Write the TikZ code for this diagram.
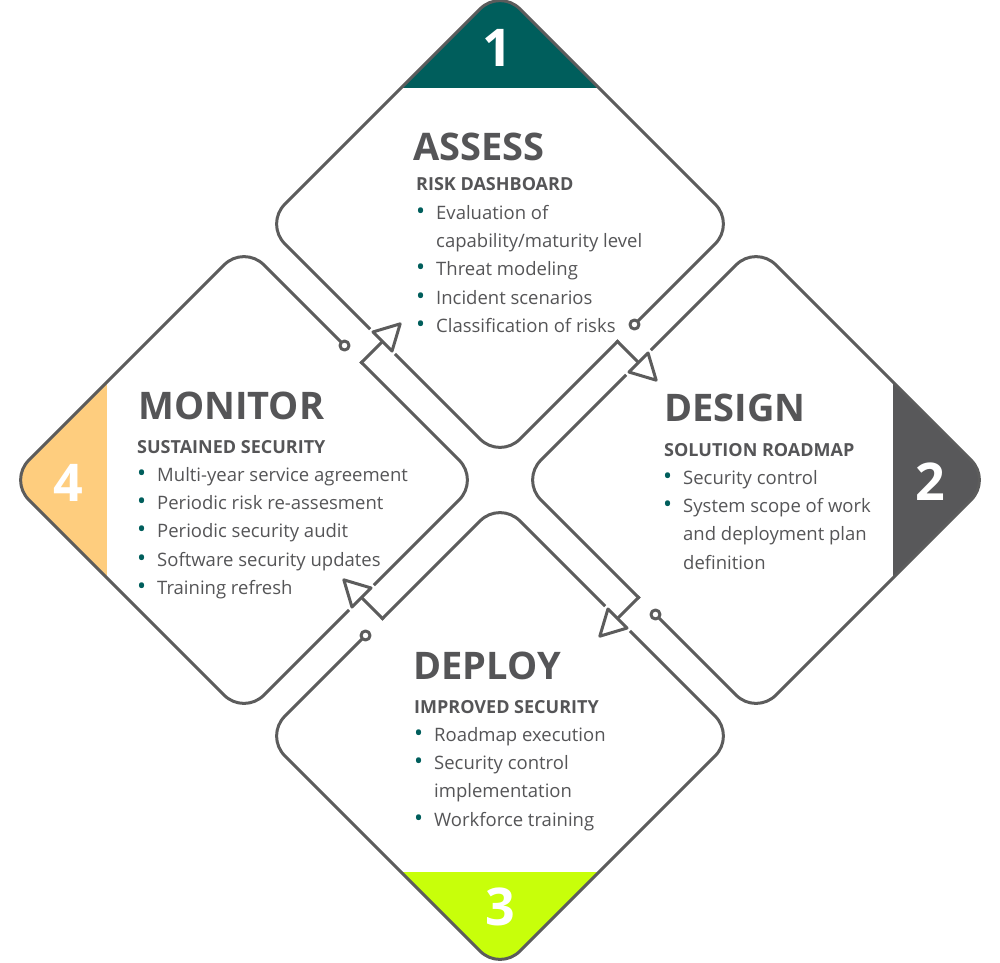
\documentclass[tikz,border=0pt]{standalone}
\usepackage{fontspec}
\setmainfont{Open Sans}
\usetikzlibrary{positioning,calc}
\definecolor{DeepTeal}{RGB}{0,94,92}
\definecolor{SlateGray}{RGB}{88,88,90}
\definecolor{SoftAmber}{RGB}{254,205,126}
\definecolor{LimeGreen}{RGB}{200,255,10}
\definecolor{InkGray}{RGB}{92,92,92}
\definecolor{TextGray}{RGB}{85,85,87}
\newcommand{\bul}{\llap{\textcolor{DeepTeal}{\scalebox{1.3}{\textbullet}}\hspace{11pt}}}
\tikzset{
  outline/.style={draw=InkGray,line width=3pt,line join=round,line cap=rect},
  edge/.style={outline,rounded corners=28pt},
  arrowhead/.style={outline,fill=white},
  enddot/.style={outline,fill=white},
  capfill/.style={rounded corners=28pt},
  title/.style={font=\fontsize{38}{40}\selectfont\bfseries,text=TextGray,
    inner sep=0pt,anchor=base west},
  subtitle/.style={font=\fontsize{18}{20}\selectfont\bfseries,text=TextGray,
    inner sep=0pt,anchor=base west},
  item/.style={font=\fontsize{18.5}{20}\selectfont,text=TextGray,inner sep=0pt,
    text height=14pt,text depth=14pt,anchor=base west},
  number/.style={font=\fontsize{52}{52}\selectfont\bfseries,text=white,inner sep=0pt}
}

\begin{document}
\begin{tikzpicture}[x=1pt,y=1pt]
  \useasboundingbox (-500,-482) rectangle (500,480);
  % corners of the four diamonds
  \coordinate (apex1) at (0,491);
  \coordinate (inwing1) at (-235,256);
  \coordinate (hub1) at (0,21);
  \coordinate (outwing1) at (235,256);
  \coordinate (apex2) at (491,0);
  \coordinate (inwing2) at (256,235);
  \coordinate (hub2) at (21,0);
  \coordinate (outwing2) at (256,-235);
  \coordinate (apex3) at (0,-491);
  \coordinate (inwing3) at (235,-256);
  \coordinate (hub3) at (0,-21);
  \coordinate (outwing3) at (-235,-256);
  \coordinate (apex4) at (-491,0);
  \coordinate (inwing4) at (-256,-235);
  \coordinate (hub4) at (-21,0);
  \coordinate (outwing4) at (-256,235);
  \coordinate (in1) at ($(inwing1)!0.5!(hub1)$);
  \coordinate (out1) at ($(hub1)!0.5!(outwing1)$);
  \coordinate (in2) at ($(inwing2)!0.5!(hub2)$);
  \coordinate (out2) at ($(hub2)!0.5!(outwing2)$);
  \coordinate (in3) at ($(inwing3)!0.5!(hub3)$);
  \coordinate (out3) at ($(hub3)!0.5!(outwing3)$);
  \coordinate (in4) at ($(inwing4)!0.5!(hub4)$);
  \coordinate (out4) at ($(hub4)!0.5!(outwing4)$);

  % coloured caps
  \begin{scope}
    \clip (-300,392) rectangle (300,500);
    \fill[DeepTeal,capfill] ($(apex1)!0.5!(inwing1)$) -- (inwing1) -- (hub1) -- (outwing1) -- (apex1) -- cycle;
  \end{scope}
  \begin{scope}
    \clip (393,-300) rectangle (500,300);
    \fill[SlateGray,capfill] ($(apex2)!0.5!(inwing2)$) -- (inwing2) -- (hub2) -- (outwing2) -- (apex2) -- cycle;
  \end{scope}
  \begin{scope}
    \clip (-300,-392) rectangle (300,-500);
    \fill[LimeGreen,capfill] ($(apex3)!0.5!(inwing3)$) -- (inwing3) -- (hub3) -- (outwing3) -- (apex3) -- cycle;
  \end{scope}
  \begin{scope}
    \clip (-393,-300) rectangle (-500,300);
    \fill[SoftAmber,capfill] ($(apex4)!0.5!(inwing4)$) -- (inwing4) -- (hub4) -- (outwing4) -- (apex4) -- cycle;
  \end{scope}

  % outer runs
  \draw[edge] ($(out1)!24pt!(outwing1)$) -- (outwing1) -- (apex1) -- (inwing1) -- ($(in1)!19pt!(inwing1)$);
  \draw[edge] ($(out2)!24pt!(outwing2)$) -- (outwing2) -- (apex2) -- (inwing2) -- ($(in2)!19pt!(inwing2)$);
  \draw[edge] ($(out3)!24pt!(outwing3)$) -- (outwing3) -- (apex3) -- (inwing3) -- ($(in3)!19pt!(inwing3)$);
  \draw[edge] ($(out4)!24pt!(outwing4)$) -- (outwing4) -- (apex4) -- (inwing4) -- ($(in4)!19pt!(inwing4)$);

  % inner runs and hand-over arrows
  \draw[edge] ($(in1)!19pt!(hub1)$) -- (hub1) -- (out1);
  \draw[edge] ($(in2)!19pt!(hub2)$) -- (hub2) -- (out2);
  \draw[edge] ($(in3)!19pt!(hub3)$) -- (hub3) -- (out3);
  \draw[edge] ($(in4)!19pt!(hub4)$) -- (hub4) -- (out4);
  \draw[outline] (out1) -- (in2);
  \draw[outline] (out2) -- (in3);
  \draw[outline] (out3) -- (in4);
  \draw[outline] (out4) -- (in1);
  \draw[arrowhead] ($(in1)!13.5pt!(inwing1)$) -- ($(in1)!25pt!90:(hub1)$) -- ($(in1)!13.5pt!(hub1)$) -- cycle;
  \draw[arrowhead] ($(in2)!13.5pt!(inwing2)$) -- ($(in2)!25pt!90:(hub2)$) -- ($(in2)!13.5pt!(hub2)$) -- cycle;
  \draw[arrowhead] ($(in3)!13.5pt!(inwing3)$) -- ($(in3)!25pt!90:(hub3)$) -- ($(in3)!13.5pt!(hub3)$) -- cycle;
  \draw[arrowhead] ($(in4)!13.5pt!(inwing4)$) -- ($(in4)!25pt!90:(hub4)$) -- ($(in4)!13.5pt!(hub4)$) -- cycle;
  \draw[enddot] ($(out1)!24pt!(outwing1)$) circle (4.5);
  \draw[enddot] ($(out2)!24pt!(outwing2)$) circle (4.5);
  \draw[enddot] ($(out3)!24pt!(outwing3)$) circle (4.5);
  \draw[enddot] ($(out4)!24pt!(outwing4)$) circle (4.5);

  \node[number] (num1) at (-3,432) {1};
  \node[number] (num2) at (430,-2) {2};
  \node[number] (num3) at (0,-427) {3};
  \node[number] (num4) at (-432,-3) {4};

  \node[title] (assess) at (-87,320) {ASSESS};
  \node[subtitle] (assess-sub) at (-84,290) {RISK DASHBOARD};
  \node[item] (assess-i1) at (-64,261) {\bul Evaluation of};
  \node[item,below=0pt of assess-i1.south west,anchor=north west] (assess-i2) {capability/maturity level};
  \node[item,below=0pt of assess-i2.south west,anchor=north west] (assess-i3) {\bul Threat modeling};
  \node[item,below=0pt of assess-i3.south west,anchor=north west] (assess-i4) {\bul Incident scenarios};
  \node[item,below=0pt of assess-i4.south west,anchor=north west] (assess-i5) {\bul Classification of risks};

  \node[title] (design) at (164,59) {DESIGN};
  \node[subtitle] (design-sub) at (164,24) {SOLUTION ROADMAP};
  \node[item] (design-i1) at (183,-4) {\bul Security control};
  \node[item,below=0pt of design-i1.south west,anchor=north west] (design-i2) {\bul System scope of work};
  \node[item,below=0pt of design-i2.south west,anchor=north west] (design-i3) {and deployment plan};
  \node[item,below=0pt of design-i3.south west,anchor=north west] (design-i4) {definition};

  \node[title] (deploy) at (-87,-199) {DEPLOY};
  \node[subtitle] (deploy-sub) at (-86,-233) {IMPROVED SECURITY};
  \node[item] (deploy-i1) at (-66,-261) {\bul Roadmap execution};
  \node[item,below=0pt of deploy-i1.south west,anchor=north west] (deploy-i2) {\bul Security control};
  \node[item,below=0pt of deploy-i2.south west,anchor=north west] (deploy-i3) {implementation};
  \node[item,below=0pt of deploy-i3.south west,anchor=north west] (deploy-i4) {\bul Workforce training};

  \node[title] (monitor) at (-362,61) {MONITOR};
  \node[subtitle] (monitor-sub) at (-363,27) {SUSTAINED SECURITY};
  \node[item] (monitor-i1) at (-343,-1) {\bul Multi-year service agreement};
  \node[item,below=0pt of monitor-i1.south west,anchor=north west] (monitor-i2) {\bul Periodic risk re-assesment};
  \node[item,below=0pt of monitor-i2.south west,anchor=north west] (monitor-i3) {\bul Periodic security audit};
  \node[item,below=0pt of monitor-i3.south west,anchor=north west] (monitor-i4) {\bul Software security updates};
  \node[item,below=0pt of monitor-i4.south west,anchor=north west] (monitor-i5) {\bul Training refresh};
\end{tikzpicture}
\end{document}
